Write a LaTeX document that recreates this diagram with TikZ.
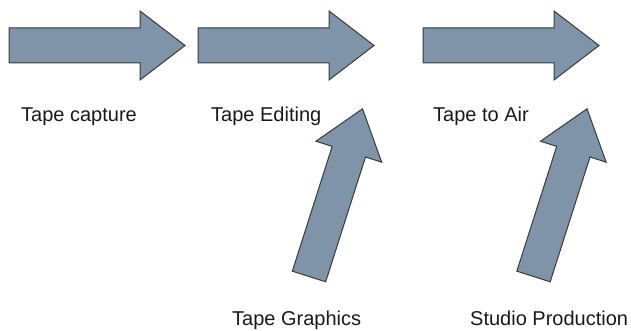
\documentclass[tikz,border=0pt]{standalone}
\usepackage{fontspec}
\setmainfont{Liberation Sans}
\definecolor{arrowfill}{RGB}{127,148,168}
\definecolor{arrowline}{RGB}{58,58,58}
\definecolor{labeltext}{RGB}{25,25,25}
\tikzset{
  arrowshape/.style={fill=arrowfill, draw=arrowline, line width=1pt, line join=miter},
  bigarrow/.pic={\draw[arrowshape] (0,-17.5) -- (131,-17.5) -- (131,-34.5) -- (176,0) -- (131,34.5) -- (131,17.5) -- (0,17.5) -- cycle;},
  lbl/.style={anchor=base west, inner sep=0pt, font=\fontsize{20}{23}\selectfont, text=labeltext}
}
\begin{document}
\begin{tikzpicture}[x=1pt,y=1pt]
\useasboundingbox (0,0) rectangle (631,331);
% horizontal arrows
\pic at (9,285.5) {bigarrow};
\pic at (198,285.5) {bigarrow};
\pic at (423,285.5) {bigarrow};
% tilted arrows
\pic[rotate=72.3] at (309,54.5) {bigarrow};
\pic[rotate=72.3] at (533.5,54.5) {bigarrow};
% labels
\node[lbl] (capture) at (21,209.5) {Tape capture};
\node[lbl] (editing) at (211,209.5) {Tape Editing};
\node[lbl] (air) at (433,209.5) {Tape to Air};
\node[lbl] (graphics) at (232,5) {Tape Graphics};
\node[lbl] (studio) at (470,5) {Studio Production};
\end{tikzpicture}
\end{document}
